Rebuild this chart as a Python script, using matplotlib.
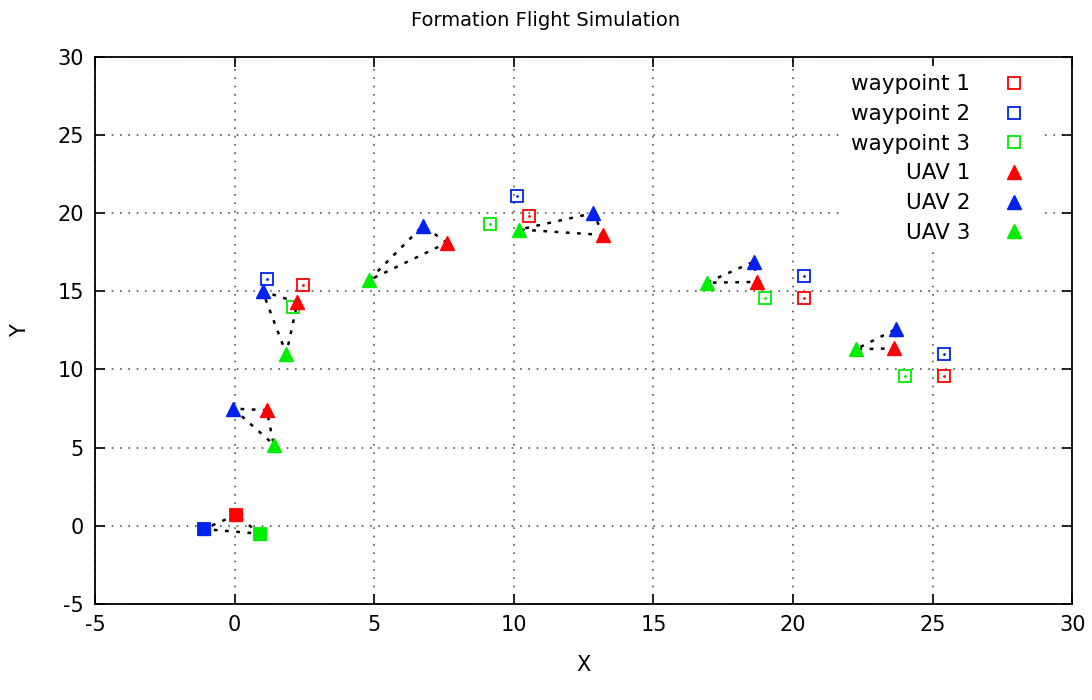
import matplotlib.pyplot as plt

# waypoints (start, then each waypoint formation)
wp1_x = [0.05, 2.45, 10.55, 20.4, 25.4]
wp1_y = [0.7, 15.4, 19.8, 14.6, 9.6]
wp2_x = [-1.1, 1.15, 10.1, 20.4, 25.4]
wp2_y = [-0.2, 15.8, 21.1, 16.0, 11.0]
wp3_x = [0.9, 2.1, 9.15, 19.0, 24.0]
wp3_y = [-0.5, 14.0, 19.3, 14.6, 9.6]

# UAV positions at each snapshot (index 0 = start)
uav1_x = [0.05, 1.15, 2.25, 7.6, 13.2, 18.7, 23.6]
uav1_y = [0.7, 7.4, 14.3, 18.1, 18.6, 15.6, 11.35]
uav2_x = [-1.1, -0.05, 1.0, 6.75, 12.85, 18.6, 23.7]
uav2_y = [-0.2, 7.5, 15.0, 19.2, 20.0, 16.9, 12.6]
uav3_x = [0.9, 1.4, 1.85, 4.8, 10.2, 16.9, 22.25]
uav3_y = [-0.5, 5.2, 11.0, 15.7, 18.95, 15.55, 11.3]

red = '#ff0000'
blue = '#0022ee'
green = '#00ee00'

plt.rcParams['axes.unicode_minus'] = False

fig = plt.figure(figsize=(10.92, 7), dpi=100)
ax = fig.add_axes([0.087, 0.137, 0.895, 0.782])

# formation outlines
for i in range(len(uav1_x)):
    xs = [uav1_x[i], uav2_x[i], uav3_x[i], uav1_x[i]]
    ys = [uav1_y[i], uav2_y[i], uav3_y[i], uav1_y[i]]
    ax.plot(xs, ys, color='black', linestyle=(0, (1.5, 3)), linewidth=1.8, zorder=2)

# waypoints
for wx, wy, c, name in [(wp1_x, wp1_y, red, 'waypoint 1'),
                        (wp2_x, wp2_y, blue, 'waypoint 2'),
                        (wp3_x, wp3_y, green, 'waypoint 3')]:
    ax.plot(wx, wy, 's', markersize=8, markerfacecolor='none', markeredgecolor=c,
            markeredgewidth=1.3, label=name, zorder=3)
    ax.plot(wx, wy, '.', markersize=2, color=c, zorder=3)

# UAVs
for ux, uy, c, name in [(uav1_x, uav1_y, red, 'UAV 1'),
                        (uav2_x, uav2_y, blue, 'UAV 2'),
                        (uav3_x, uav3_y, green, 'UAV 3')]:
    ax.plot(ux[0], uy[0], 's', markersize=9, color=c, zorder=4)
    ax.plot(ux[1:], uy[1:], '^', markersize=10, color=c, label=name, zorder=4)

ax.set_xlim(-5, 30)
ax.set_ylim(-5, 30)
ax.set_xticks(range(-5, 31, 5))
ax.set_yticks(range(-5, 31, 5))
ax.grid(True, color='#555555', linestyle=(0, (1, 4)), linewidth=1.2)
ax.tick_params(direction='in', top=True, right=True, length=7, width=1.2,
               labelsize=15, pad=8)
for s in ax.spines.values():
    s.set_linewidth(1.3)

ax.set_xlabel('X', fontsize=15, labelpad=14)
ax.set_ylabel('Y', fontsize=15, labelpad=20, rotation=90)
fig.suptitle('Formation Flight Simulation', fontsize=14, y=0.985)

leg = ax.legend(loc='upper right', bbox_to_anchor=(0.977, 1.003), markerfirst=False,
                fontsize=15.5, frameon=True, framealpha=1, edgecolor='none',
                facecolor='white', labelspacing=0.45, handletextpad=1.3,
                handlelength=1.5, borderpad=0.4)
leg.set_zorder(10)

fig.savefig('out.png', dpi=100)
